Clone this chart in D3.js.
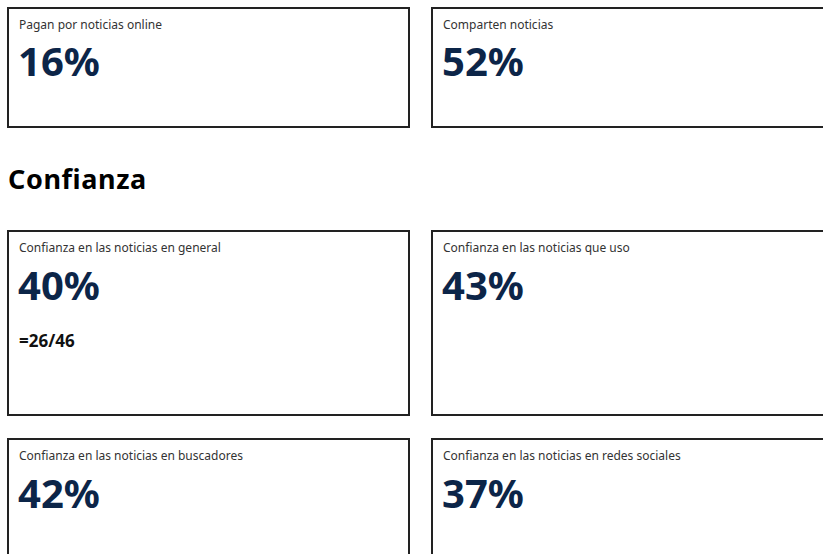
<!DOCTYPE html>
<html>
<head>
<meta charset="utf-8">
<script src="https://cdn.jsdelivr.net/npm/d3@7.9.0/dist/d3.min.js"></script>
<style>
  html, body { margin: 0; padding: 0; background: #fff; }
  svg { display: block; font-family: 'Noto Sans', sans-serif; }
</style>
</head>
<body>
<svg id="chart" width="823" height="554"></svg>
<script>
// Card data
const sections = ['', 'Confianza'];
const cardLabels = [
  'Pagan por noticias online',
  'Comparten noticias',
  'Confianza en las noticias en general',
  'Confianza en las noticias que uso',
  'Confianza en las noticias en buscadores',
  'Confianza en las noticias en redes sociales',
];
const cardValues = [16, 52, 40, 43, 42, 37];
const cardNotes = ['', '', '=26/46', '', '', ''];
const cardRows = [0, 0, 1, 1, 2, 2];
const cardCols = [0, 1, 0, 1, 0, 1];

const cards = cardLabels.map((label, i) => ({
  label,
  value: cardValues[i],
  note: cardNotes[i],
  row: cardRows[i],
  col: cardCols[i],
}));

const svg = d3.select('#chart');

// columns: two cards 403px wide with a 21px gap
const x = d3.scaleBand().domain([0, 1]).range([7, 834]).paddingInner(21 / 424);

// row tops and heights
const rowTop = [7, 230, 438];
const rowHeight = [121, 186, 186];

const fmt = (v) => `${v}%`;

const g = svg
  .selectAll('g.card')
  .data(cards)
  .join('g')
  .attr('class', 'card')
  .attr('transform', (d) => `translate(${x(d.col)},${rowTop[d.row]})`);

g.append('rect')
  .attr('x', 1)
  .attr('y', 1)
  .attr('width', x.bandwidth() - 2)
  .attr('height', (d) => rowHeight[d.row] - 2)
  .attr('fill', '#fff')
  .attr('stroke', '#222')
  .attr('stroke-width', 2);

g.append('text')
  .attr('x', 12)
  .attr('y', 22)
  .attr('font-size', 12)
  .attr('fill', '#333')
  .text((d) => d.label);

g.append('text')
  .attr('x', 11)
  .attr('y', (d) => (d.row === 0 ? 69 : 70))
  .attr('font-size', 40)
  .attr('font-weight', 700)
  .attr('fill', '#0c2548')
  .text((d) => fmt(d.value));

g.filter((d) => d.note)
  .append('text')
  .attr('x', 12)
  .attr('y', 117)
  .attr('font-size', 17)
  .attr('font-weight', 700)
  .attr('fill', '#111')
  .text((d) => d.note);

// section heading
svg
  .append('text')
  .attr('x', 8)
  .attr('y', 189)
  .attr('font-size', 27)
  .attr('font-weight', 700)
  .attr('letter-spacing', 0.6)
  .attr('fill', '#000')
  .text(sections[1]);
</script>
</body>
</html>
